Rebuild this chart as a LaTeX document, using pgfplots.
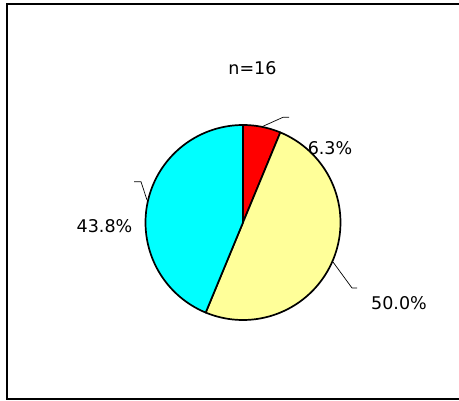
\documentclass[border=0pt]{standalone}
\usepackage{pgfplots}
\pgfplotsset{compat=1.18}
\usepackage{fontspec}
\setmainfont{DejaVu Sans}
\definecolor{pieRed}{HTML}{FF0000}
\definecolor{pieYellow}{HTML}{FFFF99}
\definecolor{pieCyan}{HTML}{00FFFF}
\begin{document}
\begin{tikzpicture}
\begin{axis}[scale only axis, width=459pt, height=400pt,
  xmin=0, xmax=459, ymin=0, ymax=400, hide axis, clip=true]
% shares of n=16: 1, 8, 7  -> 6.25%, 50%, 43.75%  (start at 90 deg, clockwise)
\def\cx{243}\def\cy{177.5}\def\r{97.5}
\addplot[fill=pieRed, draw=black, line width=1.7pt, line join=round, domain=90:67.5, samples=20, variable=\t]
  ({\cx+\r*cos(\t)},{\cy+\r*sin(\t)}) -- (axis cs:243,177.5) -- cycle;
\addplot[fill=pieYellow, draw=black, line width=1.7pt, line join=round, domain=67.5:-112.5, samples=90, variable=\t]
  ({\cx+\r*cos(\t)},{\cy+\r*sin(\t)}) -- (axis cs:243,177.5) -- cycle;
\addplot[fill=pieCyan, draw=black, line width=1.7pt, line join=round, domain=-112.5:-270, samples=80, variable=\t]
  ({\cx+\r*cos(\t)},{\cy+\r*sin(\t)}) -- (axis cs:243,177.5) -- cycle;
% leader lines
\draw[black, line width=0.7pt] (axis cs:262,273.3) -- (axis cs:283,282.7) -- (axis cs:289,282.7);
\draw[black, line width=0.7pt] (axis cs:134,218.3) -- (axis cs:141,218.3) -- (axis cs:147,200);
\draw[black, line width=0.7pt] (axis cs:333,138) -- (axis cs:352,112) -- (axis cs:357,112);
% labels
\node[font=\fontsize{17.5}{20}\selectfont] at (axis cs:252.5,332) {n=16};
\node[font=\fontsize{17.5}{20}\selectfont] at (axis cs:330,252) {6.3\%};
\node[font=\fontsize{17.5}{20}\selectfont] at (axis cs:104.5,174) {43.8\%};
\node[font=\fontsize{17.5}{20}\selectfont] at (axis cs:399,97) {50.0\%};
% frame
\draw[black, line width=2pt] (axis cs:459,395.7) -- (axis cs:7,395.7) -- (axis cs:7,1.5) -- (axis cs:459,1.5);
\end{axis}
\pgfresetboundingbox
\path (current axis.south west) rectangle (current axis.north east);
\end{tikzpicture}
\end{document}
